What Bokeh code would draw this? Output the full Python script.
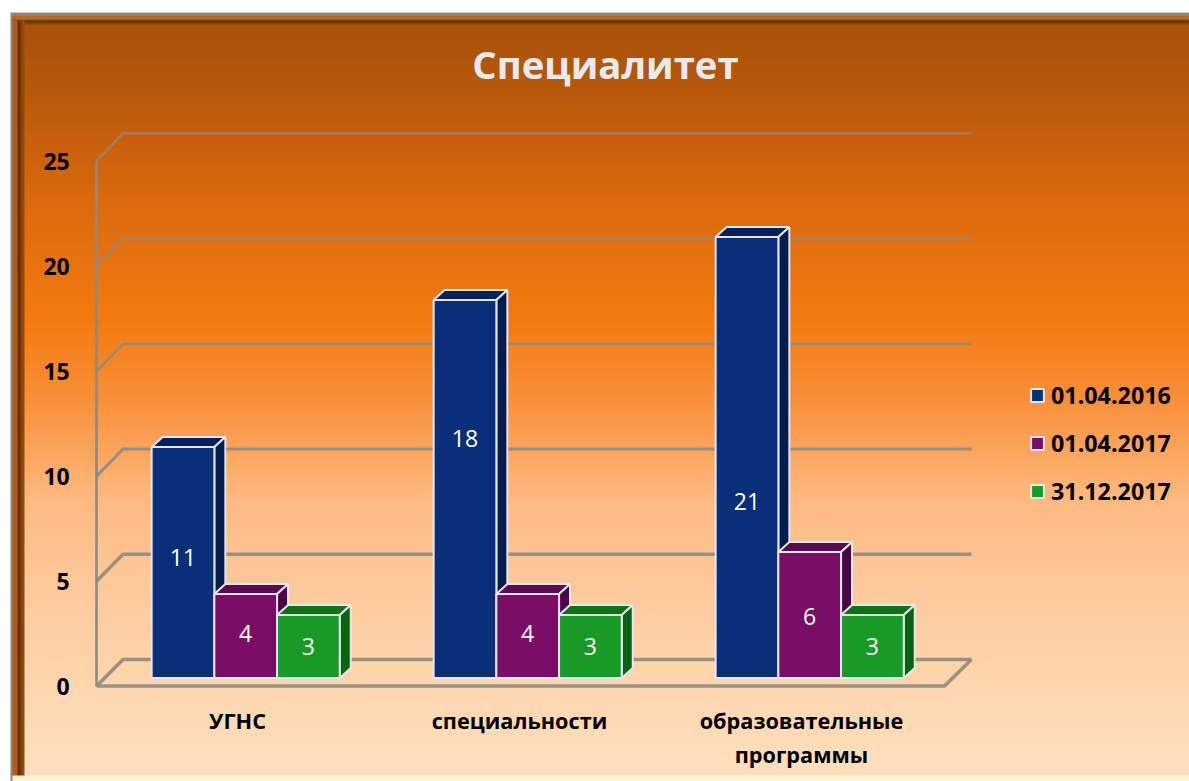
import numpy as np
from bokeh.embed import file_html
from bokeh.resources import INLINE
from bokeh.plotting import figure
from bokeh.models import (Range1d, LinearAxis, FixedTicker, Label, Legend, LegendItem)
from bokeh.core.properties import value

# ---------- data ----------
title_text = "Специалитет"
categories = ["УГНС", "специальности", "образовательные\nпрограммы"]
series_names = ["01.04.2016", "01.04.2017", "31.12.2017"]
values_2016 = [11, 18, 21]
values_2017 = [4, 4, 6]
values_2017b = [3, 3, 3]
y_ticks = [0, 5, 10, 15, 20, 25]

# ---------- layout / style ----------
W, H = 1189, 781
PX_PER_GROUP = 282.0
PX_PER_UNIT = 21.0
X0_PAGE, Y0_PAGE = 245.2, 685.5     # group 0 centre, value 0 on the front wall
fx = lambda px: px / PX_PER_GROUP
fy = lambda px: px / PX_PER_UNIT
to_x = lambda page: (page - X0_PAGE) / PX_PER_GROUP

front = ["#0B2E78", "#7A0E66", "#179A26"]
top = ["#071F5C", "#5C0A50", "#0F7316"]
side = ["#061C50", "#4A0644", "#0B6210"]
EDGE = "#E4E6F0"
GRID = "#8E8A82"
grid_widths = [3.6, 3.4, 3.0, 2.6, 2.2, 2.0]
series = [values_2016, values_2017, values_2017b]
BAR_W = fx(62.7)
BASE = fy(8)            # bars stand this far above the front wall zero
D_X, D_Y = fx(11), fy(10)
WALL_L, WALL_BACK, WALL_R = to_x(96.2), to_x(122.5), to_x(971)
FLOOR_R = to_x(944)
BACK_Y = fy(26.5)
BACK_SCALE = 21.05 / 21.0
label_shift_px = [[5, 3, 0], [51, 3, 0], [-44, -1, 0]]

# ---------- figure ----------
p = figure(width=W, height=H, output_backend="svg", toolbar_location=None,
           x_range=Range1d(to_x(0), to_x(W)),
           y_range=Range1d((Y0_PAGE - H) / PX_PER_UNIT, Y0_PAGE / PX_PER_UNIT),
           x_axis_type=None, y_axis_type=None, min_border=0,
           background_fill_color="white", border_fill_color="white", outline_line_color=None)
p.extra_x_ranges = {"labels": Range1d(-237.0 / PX_PER_GROUP, (W - 237.0) / PX_PER_GROUP)}

# background gradient + bevelled frame, as a picture
stops_y = [14, 25, 100, 200, 320, 400, 500, 600, 700, 775]
stops_c = np.array([[168, 82, 9], [168, 82, 9], [186, 90, 11], [218, 106, 13], [243, 122, 16],
                    [248, 144, 56], [253, 186, 128], [253, 203, 158], [254, 216, 176], [254, 224, 190]], float)
ys = np.arange(H) + 0.5
xs = np.arange(W) + 0.5
rgb = np.stack([np.interp(ys, stops_y, stops_c[:, k]) for k in range(3)], axis=1)
img = np.repeat(rgb[:, None, :], W, axis=1)
def blend(mask, color):
    img[mask] = color
yy, xx = np.meshgrid(ys, xs, indexing="ij")
for y0, y1, c in [(15, 19, (190, 104, 36)), (19, 20, (140, 80, 26)), (20, 22, (90, 54, 14)), (22, 24, (130, 72, 14))]:
    blend((yy >= y0) & (yy < y1) & (xx >= 12), c)
for x0, x1, c in [(12, 17, (180, 90, 20)), (17, 19, (92, 46, 4)), (19, 21, (112, 56, 6)), (21, 24, (146, 74, 9))]:
    blend((xx >= x0) & (xx < x1) & (yy >= 20), c)
blend((yy >= 775), (255, 244, 212))
blend((yy >= 12) & (yy < 15) & (xx >= 10), (138, 136, 132))
blend((xx >= 10) & (xx < 12) & (yy >= 12), (138, 136, 132))
blend((yy < 12) | (xx < 10), (255, 255, 255))
rgba = np.zeros((H, W), dtype=np.uint32)
view = rgba.view(dtype=np.uint8).reshape((H, W, 4))
view[:, :, :3] = np.round(img[::-1]).astype(np.uint8)
view[:, :, 3] = 255
p.image_rgba(image=[rgba], x=to_x(0), y=(Y0_PAGE - H) / PX_PER_UNIT,
             dw=W / PX_PER_GROUP, dh=H / PX_PER_UNIT)

# walls and floor
grid_x, grid_y = [], []
for t in y_ticks:
    grid_x.append([WALL_L, WALL_BACK, WALL_R])
    grid_y.append([t, t * BACK_SCALE + BACK_Y, t * BACK_SCALE + BACK_Y])
p.multi_line(grid_x, grid_y, line_color=GRID, line_width=grid_widths, line_alpha=0.9)
p.line([WALL_L, FLOOR_R, WALL_R], [0, 0, BACK_Y], line_color=GRID, line_width=3.6, line_alpha=0.9)

# bars
renderers = []
for s, vals in enumerate(series):
    xc = [i + (s - 1) * BAR_W for i in range(len(vals))]
    tx, ty, sx, sy = [], [], [], []
    for x, v in zip(xc, vals):
        l, r = x - BAR_W / 2, x + BAR_W / 2
        t = v + BASE
        tx.append([l, r, r + D_X, l + D_X])
        ty.append([t, t, t + D_Y, t + D_Y])
        sx.append([r, r + D_X, r + D_X, r])
        sy.append([BASE, BASE + D_Y, t + D_Y, t])
    p.patches(tx, ty, fill_color=top[s], line_color=EDGE, line_width=2)
    p.patches(sx, sy, fill_color=side[s], line_color=EDGE, line_width=2)
    r = p.vbar(x=xc, width=BAR_W, bottom=BASE, top=[v + BASE for v in vals],
               fill_color=front[s], line_color=EDGE, line_width=2)
    renderers.append(r)
    ly = [v / 2 + BASE + fy(label_shift_px[i][s]) for i, v in enumerate(vals)]
    p.text(x=xc, y=ly, text=[str(v) for v in vals], text_color="white", text_align="center",
           text_baseline="middle", text_font=value("Open Sans"), text_font_size="23px")

# axes
ya = LinearAxis(ticker=FixedTicker(ticks=y_ticks), fixed_location=WALL_L, bounds=(0, 25),
                axis_line_color=GRID, axis_line_width=2.6, major_tick_line_color=None,
                minor_tick_line_color=None, major_label_standoff=21,
                major_label_text_font="Open Sans", major_label_text_font_style="bold",
                major_label_text_font_size="23px", major_label_text_color="black")
p.add_layout(ya, "left")
xa = LinearAxis(x_range_name="labels", ticker=FixedTicker(ticks=list(range(len(categories)))),
                major_label_overrides={i: c for i, c in enumerate(categories)},
                fixed_location=0, axis_line_color=None, major_tick_line_color=None,
                minor_tick_line_color=None, major_label_standoff=14,
                major_label_text_font="Open Sans", major_label_text_font_style="bold",
                major_label_text_font_size="21.7px", major_label_text_color="black",
                major_label_text_line_height=1.18)
p.add_layout(xa, "below")

# legend
legend = Legend(items=[LegendItem(label=n, renderers=[r]) for n, r in zip(series_names, renderers)],
                location=(1021, 266), orientation="vertical", background_fill_alpha=0, border_line_alpha=0,
                glyph_width=16, glyph_height=16, label_standoff=6, spacing=16, padding=8, margin=0,
                label_text_font="Open Sans", label_text_font_style="bold", label_text_font_size="23.3px",
                label_text_color="black", label_height=22)
p.add_layout(legend, "center")

# title
p.add_layout(Label(x=605, y=H - 63, x_units="screen", y_units="screen", text=title_text,
                   text_align="center", text_baseline="middle", text_font="Open Sans",
                   text_font_style="bold", text_font_size="38.3px", text_color="#E6EBF3"))

open("out.html", "w").write(file_html(p, INLINE))
